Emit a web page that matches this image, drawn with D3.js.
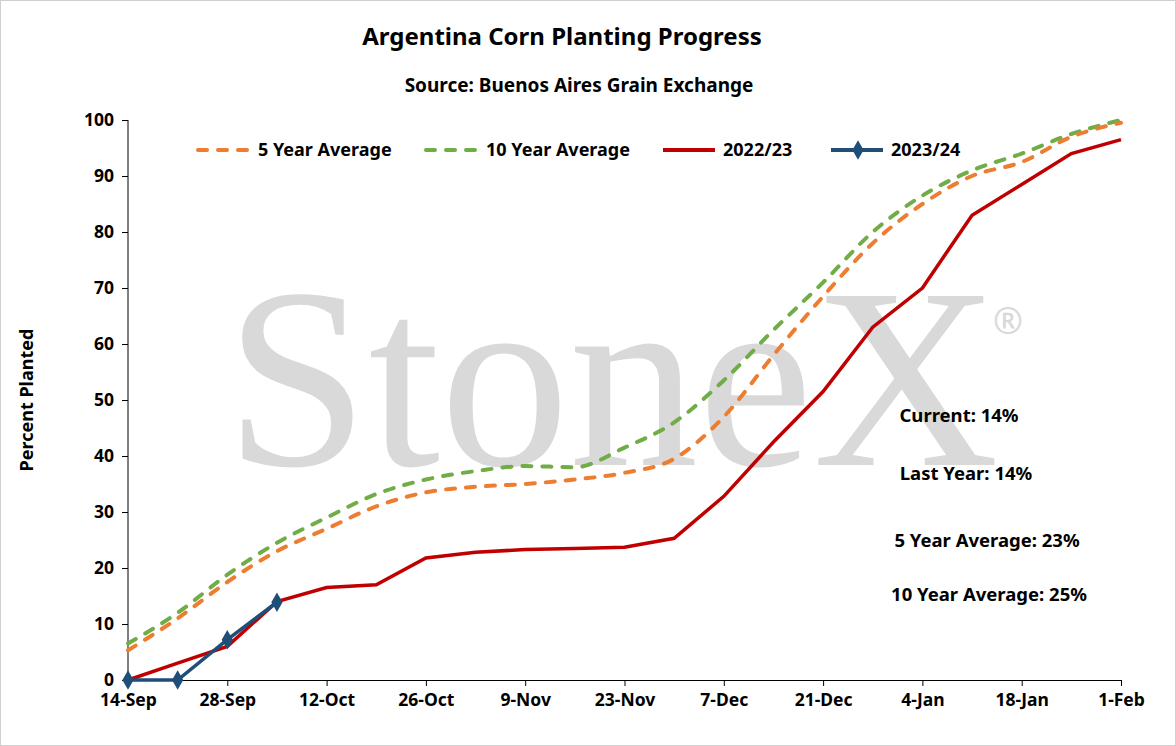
<!DOCTYPE html>
<html><head><meta charset="utf-8">
<script src="https://cdn.jsdelivr.net/npm/d3@7"></script>
<style>body{margin:0;background:#fff}svg{display:block;font-family:"Noto Sans","Open Sans",Arial,sans-serif}</style>
</head><body>
<svg id="c" width="1176" height="746"></svg>
<script>
const tickLabels = ["14-Sep","28-Sep","12-Oct","26-Oct","9-Nov","23-Nov","7-Dec","21-Dec","4-Jan","18-Jan","1-Feb"];
const avg5 = [5.3,11,17.5,23,27,31,33.5,34.5,35,35.8,37,39.5,47,58,68.5,78,85,90,92.5,97,99.5];
const avg10 = [6.5,12,18.8,24.5,29,33.2,35.8,37.3,38.2,38,41.5,46,53.5,62.5,71,80,86.5,91,94,97.5,100];
const y2223 = [0,3,6,14,16.5,17,21.8,22.8,23.3,23.5,23.7,25.3,32.8,42.5,51.5,63,70,83,88.5,94,96.5];
const y2324 = [0,0,7.2,13.9];
const notes = [["Current: 14%",959,422],["Last Year: 14%",966,480],["5 Year Average: 23%",987,547],["10 Year Average: 25%",989,601]];

const svg = d3.select("#c");
svg.append("rect").attr("x",0.5).attr("y",0.5).attr("width",1175).attr("height",745).attr("fill","#fff").attr("stroke","#d0d0d0");
const x = d3.scaleLinear().domain([0,20]).range([128,1121]);
const y = d3.scaleLinear().domain([0,100]).range([680,120]);

svg.append("text").attr("x",612).attr("y",378).attr("text-anchor","middle").attr("dominant-baseline","central")
  .attr("font-family","'Liberation Serif','DejaVu Serif',serif").attr("font-size",258).attr("fill","#d9d9d9").text("StoneX");
svg.append("text").attr("x",1008).attr("y",334).attr("text-anchor","middle").attr("font-size",36).attr("fill","#d9d9d9").text("®");

svg.append("text").attr("x",562).attr("y",45).attr("text-anchor","middle").attr("font-size",24).attr("font-weight","bold").text("Argentina Corn Planting Progress");
svg.append("text").attr("x",579).attr("y",92).attr("text-anchor","middle").attr("font-size",19).attr("font-weight","bold").text("Source: Buenos Aires Grain Exchange");
svg.append("text").attr("transform","translate(33,400) rotate(-90)").attr("text-anchor","middle").attr("font-size",18).attr("font-weight","bold").text("Percent Planted");

const ya = svg.append("g").attr("transform","translate(128,0)").call(d3.axisLeft(y).tickValues(d3.range(0,101,10)).tickSize(6).tickPadding(8));
const xa = svg.append("g").attr("transform","translate(0,680)").call(d3.axisBottom(x).tickValues(d3.range(0,21,2)).tickFormat((d,i)=>tickLabels[i]).tickSize(6).tickPadding(8));
[ya,xa].forEach(a=>{a.selectAll("text").attr("font-size",17.5).attr("font-weight","bold").attr("fill","#000").style("font-family","'Noto Sans','Open Sans',Arial,sans-serif");a.selectAll("line,path").attr("stroke","#000");});
ya.select(".domain").attr("d","M0,680V120");

const smooth = d3.line().x((d,i)=>x(i)).y(d=>y(d)).curve(d3.curveMonotoneX);
const straight = d3.line().x((d,i)=>x(i)).y(d=>y(d));
svg.append("path").attr("d",smooth(avg10)).attr("fill","none").attr("stroke","#70ad47").attr("stroke-width",4).attr("stroke-linecap","round").attr("stroke-dasharray","9,11");
svg.append("path").attr("d",smooth(avg5)).attr("fill","none").attr("stroke","#ed7d31").attr("stroke-width",4).attr("stroke-linecap","round").attr("stroke-dasharray","9,11");
svg.append("path").attr("d",straight(y2223)).attr("fill","none").attr("stroke","#c00000").attr("stroke-width",3.5);
svg.append("path").attr("d",straight(y2324)).attr("fill","none").attr("stroke","#1f4e79").attr("stroke-width",3.5);
svg.selectAll(".dm").data(y2324).join("path").attr("transform",(d,i)=>`translate(${x(i)},${y(d)})`)
  .attr("d",d3.symbol(d3.symbolDiamond,110)).attr("fill","#1f4e79");

const leg = [["5 Year Average","#ed7d31",true,198],["10 Year Average","#70ad47",true,426],["2022/23","#c00000",false,663],["2023/24","#1f4e79",false,831]];
leg.forEach(([t,c,dash,lx])=>{
  svg.append("line").attr("x1",lx).attr("x2",lx+52).attr("y1",150).attr("y2",150).attr("stroke",c).attr("stroke-width",4)
    .attr("stroke-linecap",dash?"round":null).attr("stroke-dasharray",dash?"9,11":null);
  if(t==="2023/24") svg.append("path").attr("transform",`translate(${lx+27},150)`).attr("d",d3.symbol(d3.symbolDiamond,110)).attr("fill",c);
  svg.append("text").attr("x",lx+60).attr("y",156).attr("font-size",18).attr("font-weight","bold").text(t);
});
notes.forEach(([t,nx,ny])=>svg.append("text").attr("x",nx).attr("y",ny).attr("text-anchor","middle").attr("font-size",18.5).attr("font-weight","bold").text(t));
</script></body></html>
